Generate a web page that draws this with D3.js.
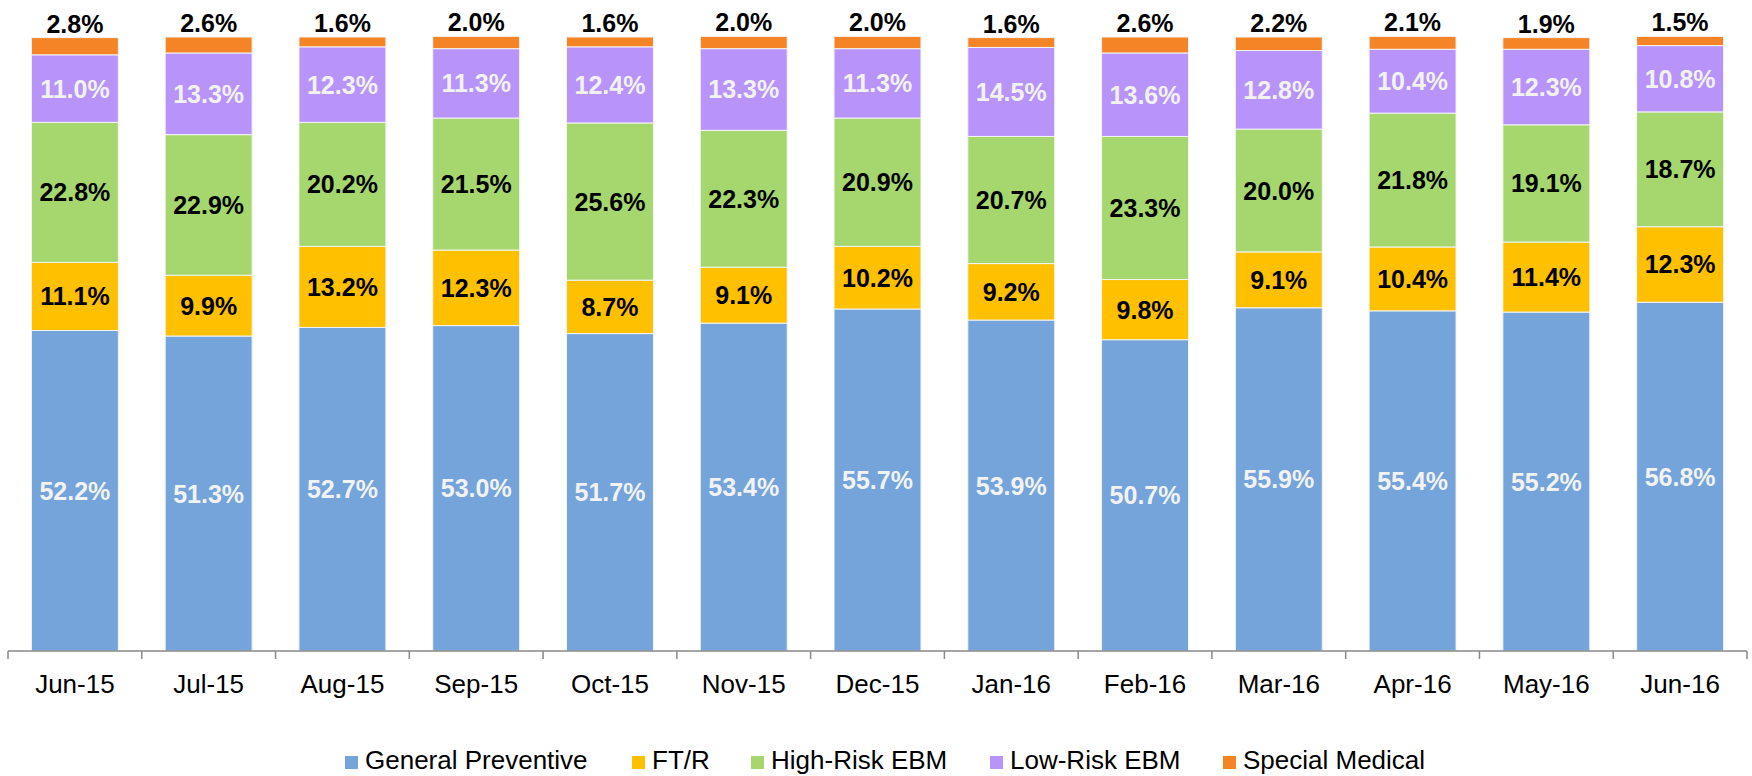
<!DOCTYPE html>
<html>
<head>
<meta charset="utf-8">
<script src="https://cdn.jsdelivr.net/npm/d3@7"></script>
<style>
  html, body { margin: 0; padding: 0; background: #fff; }
  svg { display: block; font-family: Arial, "Liberation Sans", sans-serif; }
</style>
</head>
<body>
<div id="container"></div>
<script>
const months = ['Jun-15', 'Jul-15', 'Aug-15', 'Sep-15', 'Oct-15', 'Nov-15', 'Dec-15',
  'Jan-16', 'Feb-16', 'Mar-16', 'Apr-16', 'May-16', 'Jun-16'];
const seriesNames = ['General Preventive', 'FT/R', 'High-Risk EBM', 'Low-Risk EBM', 'Special Medical'];
const generalPreventive = [52.2, 51.3, 52.7, 53.0, 51.7, 53.4, 55.7, 53.9, 50.7, 55.9, 55.4, 55.2, 56.8];
const ftr = [11.1, 9.9, 13.2, 12.3, 8.7, 9.1, 10.2, 9.2, 9.8, 9.1, 10.4, 11.4, 12.3];
const highRisk = [22.8, 22.9, 20.2, 21.5, 25.6, 22.3, 20.9, 20.7, 23.3, 20.0, 21.8, 19.1, 18.7];
const lowRisk = [11.0, 13.3, 12.3, 11.3, 12.4, 13.3, 11.3, 14.5, 13.6, 12.8, 10.4, 12.3, 10.8];
const specialMedical = [2.8, 2.6, 1.6, 2.0, 1.6, 2.0, 2.0, 1.6, 2.6, 2.2, 2.1, 1.9, 1.5];

const colors = ['#74a4da', '#ffc000', '#a5d76e', '#b894fa', '#f58426'];
const labelColors = ['#f2f2f2', '#000', '#000', '#f2f2f2', '#000'];

const width = 1752;
const height = 776;
const left = 8;
const right = 1747;
const baseY = 651;
const topY = 37;

const table = months.map((m, i) => ({
  month: m,
  [seriesNames[0]]: generalPreventive[i],
  [seriesNames[1]]: ftr[i],
  [seriesNames[2]]: highRisk[i],
  [seriesNames[3]]: lowRisk[i],
  [seriesNames[4]]: specialMedical[i],
}));

const stacked = d3.stack().keys(seriesNames)(table);

const svg = d3.select('#container')
  .append('svg')
  .attr('width', width)
  .attr('height', height);

const xScale = d3.scaleBand()
  .domain(months)
  .range([left, right])
  .paddingInner(0.35)
  .paddingOuter(0.175);

const xEdges = d3.scaleBand().domain(months).range([left, right]);

const yScale = d3.scaleLinear()
  .domain([0, 100])
  .range([baseY, topY]);

// bars
const layers = svg.append('g')
  .selectAll('g')
  .data(stacked)
  .enter()
  .append('g')
  .attr('fill', (d, i) => colors[i]);

layers.selectAll('rect')
  .data((d) => d)
  .enter()
  .append('rect')
  .attr('x', (d) => xScale(d.data.month))
  .attr('y', (d) => yScale(d[1]))
  .attr('width', xScale.bandwidth())
  .attr('height', (d) => yScale(d[0]) - yScale(d[1]))
  .attr('stroke', '#f4f4f4')
  .attr('stroke-width', 1);

// labels
stacked.forEach((layer, si) => {
  const isTop = si === stacked.length - 1;
  svg.append('g')
    .selectAll('text')
    .data(layer)
    .enter()
    .append('text')
    .attr('x', (d) => xScale(d.data.month) + xScale.bandwidth() / 2)
    .attr('y', (d) => (isTop ? yScale(d[1]) - 5 : yScale((d[0] + d[1]) / 2)))
    .attr('dy', isTop ? 0 : '0.36em')
    .attr('text-anchor', 'middle')
    .attr('font-size', 25)
    .attr('font-weight', 'bold')
    .attr('fill', labelColors[si])
    .text((d) => (d[1] - d[0]).toFixed(1) + '%');
});

// x axis
const axis = svg.append('g').attr('transform', `translate(0,${baseY})`);
axis.append('line')
  .attr('x1', left).attr('x2', right)
  .attr('y1', 0).attr('y2', 0)
  .attr('stroke', '#898989').attr('stroke-width', 1.5);
const edges = months.map((m) => xEdges(m)).concat([right]);
axis.selectAll('.tick')
  .data(edges)
  .enter()
  .append('line')
  .attr('x1', (d) => d).attr('x2', (d) => d)
  .attr('y1', 0).attr('y2', 8)
  .attr('stroke', '#898989').attr('stroke-width', 1.5);
axis.selectAll('.lbl')
  .data(months)
  .enter()
  .append('text')
  .attr('x', (d) => xEdges(d) + xEdges.bandwidth() / 2)
  .attr('y', 42)
  .attr('text-anchor', 'middle')
  .attr('font-size', 26)
  .attr('fill', '#000')
  .text((d) => d);

// legend
const legendX = [345, 632, 751, 990, 1223];
const legend = svg.append('g')
  .selectAll('g')
  .data(seriesNames)
  .enter()
  .append('g')
  .attr('transform', (d, i) => `translate(${legendX[i]},756)`);
legend.append('rect')
  .attr('width', 13).attr('height', 13)
  .attr('fill', (d, i) => colors[i]);
legend.append('text')
  .attr('x', 20)
  .attr('y', 13)
  .attr('font-size', 26)
  .attr('fill', '#000')
  .text((d) => d);
</script>
</body>
</html>
